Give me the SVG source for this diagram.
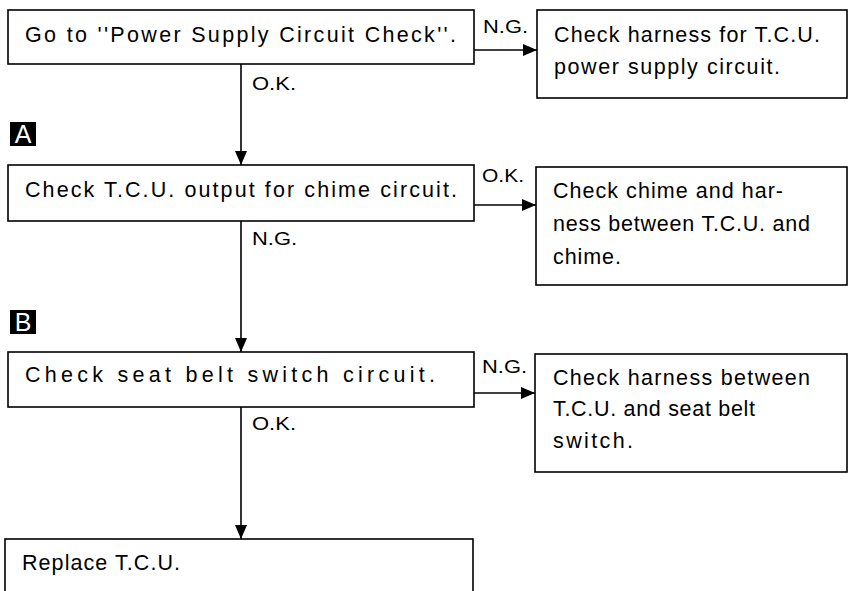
<svg xmlns="http://www.w3.org/2000/svg" width="849" height="591" viewBox="0 0 849 591">
<style>
  .box { fill: #fff; stroke: #000; stroke-width: 1.6; }
  .t { font-family: "Liberation Sans", Arial, sans-serif; font-size: 21.5px; fill: #000; }
  .lbl { font-family: "Liberation Sans", Arial, sans-serif; font-size: 19px; fill: #000; }
  .edge { stroke: #000; stroke-width: 1.6; fill: none; marker-end: url(#ah); }
  .tag { fill: #000; }
  .tagt { font-family: "Liberation Sans", Arial, sans-serif; font-size: 25px; fill: #fff; }
</style>
<defs>
  <marker id="ah" markerUnits="userSpaceOnUse" markerWidth="14" markerHeight="12" refX="14" refY="6" orient="auto">
    <path d="M0,0 L14,6 L0,12 Z" fill="#000"/>
  </marker>
</defs>
<rect width="849" height="591" fill="#fff"/>

<g id="connectors">
  <line class="edge" x1="474" y1="50" x2="537" y2="50"/>
  <line class="edge" x1="241" y1="64" x2="241" y2="165"/>
  <line class="edge" x1="474" y1="205" x2="536" y2="205"/>
  <line class="edge" x1="241" y1="221" x2="241" y2="352"/>
  <line class="edge" x1="474" y1="393" x2="535" y2="393"/>
  <line class="edge" x1="241" y1="407" x2="241" y2="539"/>
  <text class="lbl" x="483" y="33" textLength="45" lengthAdjust="spacingAndGlyphs">N.G.</text>
  <text class="lbl" x="252" y="90" textLength="44" lengthAdjust="spacingAndGlyphs">O.K.</text>
  <text class="lbl" x="482" y="182" textLength="42" lengthAdjust="spacingAndGlyphs">O.K.</text>
  <text class="lbl" x="252" y="245" textLength="45" lengthAdjust="spacingAndGlyphs">N.G.</text>
  <text class="lbl" x="482" y="373" textLength="45" lengthAdjust="spacingAndGlyphs">N.G.</text>
  <text class="lbl" x="252" y="430" textLength="44" lengthAdjust="spacingAndGlyphs">O.K.</text>
</g>

<g id="tagA">
  <rect class="tag" x="10" y="122" width="26" height="24"/>
  <text class="tagt" x="23" y="143" text-anchor="middle">A</text>
</g>
<g id="tagB">
  <rect class="tag" x="10" y="310" width="26" height="24"/>
  <text class="tagt" x="23" y="331" text-anchor="middle">B</text>
</g>

<g id="n1">
  <rect class="box" x="8" y="10" width="466" height="54"/>
  <text class="t" x="25" y="42" textLength="431" lengthAdjust="spacing">Go to ''Power Supply Circuit Check''.</text>
</g>
<g id="n2">
  <rect class="box" x="537" y="10" width="310" height="88"/>
  <text class="t" x="554" y="42" textLength="266" lengthAdjust="spacing">Check harness for T.C.U.</text>
  <text class="t" x="554" y="74" textLength="226" lengthAdjust="spacing">power supply circuit.</text>
</g>
<g id="n3">
  <rect class="box" x="8" y="165" width="466" height="56"/>
  <text class="t" x="25" y="197" textLength="432" lengthAdjust="spacing">Check T.C.U. output for chime circuit.</text>
</g>
<g id="n4">
  <rect class="box" x="536" y="167" width="311" height="118"/>
  <text class="t" x="553" y="198" textLength="230" lengthAdjust="spacing">Check chime and har-</text>
  <text class="t" x="553" y="231" textLength="257" lengthAdjust="spacing">ness between T.C.U. and</text>
  <text class="t" x="553" y="264" textLength="68" lengthAdjust="spacing">chime.</text>
</g>
<g id="n5">
  <rect class="box" x="8" y="352" width="466" height="55"/>
  <text class="t" x="25" y="382" textLength="410" lengthAdjust="spacing">Check seat belt switch circuit.</text>
</g>
<g id="n6">
  <rect class="box" x="535" y="354" width="312" height="118"/>
  <text class="t" x="553" y="385" textLength="257" lengthAdjust="spacing">Check harness between</text>
  <text class="t" x="553" y="416" textLength="202" lengthAdjust="spacing">T.C.U. and seat belt</text>
  <text class="t" x="553" y="448" textLength="80" lengthAdjust="spacing">switch.</text>
</g>
<g id="n7">
  <rect class="box" x="5" y="539" width="468" height="70"/>
  <text class="t" x="22" y="570" textLength="158" lengthAdjust="spacing">Replace T.C.U.</text>
</g>
</svg>
